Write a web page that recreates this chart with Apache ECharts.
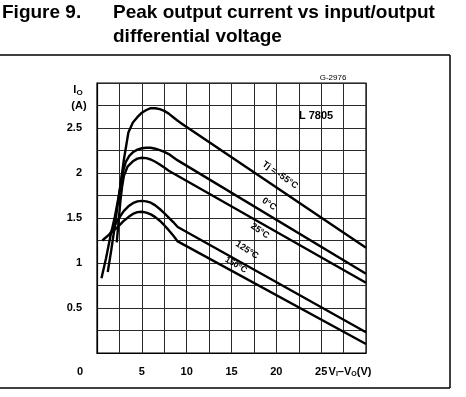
<!DOCTYPE html>
<html>
<head>
<meta charset="utf-8">
<script src="https://cdn.jsdelivr.net/npm/echarts@6/dist/echarts.min.js"></script>
<style>
html, body { margin: 0; padding: 0; background: #fff; }
#main { width: 466px; height: 397px; }
</style>
</head>
<body>
<div id="main"></div>
<script>
// peak output current (A) vs Vi-Vo (V), one array per junction temperature
var tjM55 = [[0.5,0.83],[1,1.05],[1.5,1.3],[2,1.52],[2.5,1.78],[3,2.15],[3.5,2.45],[4,2.56],[4.5,2.62],[5,2.67],[5.5,2.7],[6,2.72],[6.5,2.72],[7,2.71],[7.5,2.69],[8,2.66],[8.5,2.62],[9,2.58],[9.5,2.545],[10,2.51],[30,1.17]];
var tj0 = [[1.2,0.9],[1.6,1.15],[2,1.42],[2.4,1.72],[2.8,1.98],[3.2,2.12],[3.6,2.19],[4,2.23],[4.5,2.26],[5,2.275],[5.5,2.28],[6,2.28],[6.5,2.27],[7,2.255],[7.5,2.235],[8,2.21],[8.5,2.175],[9,2.14],[30,0.88]];
var tj25 = [[2.2,1.23],[2.4,1.45],[2.6,1.68],[2.8,1.85],[3,1.97],[3.4,2.07],[4,2.13],[4.5,2.16],[5,2.17],[5.5,2.165],[6,2.15],[6.5,2.125],[7,2.095],[7.5,2.06],[8,2.025],[30,0.78]];
var tj125 = [[1.3,1.3],[2,1.42],[2.6,1.52],[3,1.58],[3.5,1.63],[4,1.665],[4.5,1.685],[5,1.69],[5.5,1.685],[6,1.67],[6.5,1.64],[7,1.6],[7.5,1.555],[8,1.505],[8.5,1.455],[9,1.4],[30,0.23]];
var tj150 = [[0.6,1.25],[1.5,1.33],[2.2,1.39],[2.6,1.43],[3,1.47],[3.5,1.51],[4,1.545],[4.5,1.565],[5,1.57],[5.5,1.56],[6,1.54],[6.5,1.51],[7,1.47],[7.5,1.42],[8,1.365],[8.5,1.305],[9,1.24],[30,0.1]];
var xTicks = [5, 10, 15, 20, 25];
var yTicks = [0.5, 1, 1.5, 2, 2.5];

var chart = echarts.init(document.getElementById('main'));
var font = 'Liberation Sans, Arial, sans-serif';
var gridColor = '#2a2a2a';

function curve(name, data) {
    return {
        name: name,
        type: 'line',
        data: data,
        smooth: false,
        symbol: 'none',
        lineStyle: { color: '#000', width: 2.4, join: 'round' },
        z: 5
    }
}

function txt(x, y, text, size, rot) {
    return {
        type: 'text', x: x, y: y, rotation: (rot || 0) * Math.PI / 180, z: 10,
        style: { text: text, font: 'bold ' + size + 'px ' + font, fill: '#000', align: 'center', verticalAlign: 'middle' }
    }
}

var option = {
    animation: false,
    backgroundColor: '#fff',
    grid: { left: 97, top: 83, right: 100, bottom: 44, show: true, borderColor: '#000', borderWidth: 1.2 },
    xAxis: {
        type: 'value', min: 0, max: 30, interval: 2.5,
        axisLine: { lineStyle: { color: '#000', width: 1.2 } },
        axisTick: { show: false },
        splitLine: { lineStyle: { color: gridColor, width: 1 } },
        axisLabel: {
            margin: 13, color: '#000', fontFamily: font, fontWeight: 'bold', fontSize: 11,
            formatter: function (v) { return xTicks.indexOf(v) >= 0 ? String(v) : ''; }
        }
    },
    yAxis: {
        type: 'value', min: 0, max: 3, interval: 0.25,
        axisLine: { lineStyle: { color: '#000', width: 1.2 } },
        axisTick: { show: false },
        splitLine: { lineStyle: { color: gridColor, width: 1 } },
        axisLabel: {
            margin: 15, color: '#000', fontFamily: font, fontWeight: 'bold', fontSize: 11,
            formatter: function (v) { return yTicks.indexOf(v) >= 0 ? String(v) : ''; }
        }
    },
    series: [
        curve('-55°C', tjM55),
        curve('0°C', tj0),
        curve('25°C', tj25),
        curve('125°C', tj125),
        curve('150°C', tj150)
    ],
    graphic: [
        // title
        { type: 'text', left: 2, top: 3, style: { text: 'Figure 9.', font: 'bold 19px ' + font, fill: '#000' } },
        { type: 'text', left: 113, top: 3, style: { text: 'Peak output current vs input/output', font: 'bold 19px ' + font, fill: '#000' } },
        { type: 'text', left: 113, top: 27, style: { text: 'differential voltage', font: 'bold 19px ' + font, fill: '#000' } },
        // frame
        { type: 'line', shape: { x1: 0, y1: 55, x2: 450, y2: 55 }, style: { stroke: '#000', lineWidth: 1.5 } },
        { type: 'line', shape: { x1: 450, y1: 55, x2: 450, y2: 388 }, style: { stroke: '#000', lineWidth: 1.5 } },
        { type: 'line', shape: { x1: 0, y1: 388, x2: 450, y2: 388 }, style: { stroke: '#000', lineWidth: 1.5 } },
        // axis names and notes
        {
            type: 'text', x: 78, y: 90,
            style: { text: '{b|I}{s|O}', align: 'center', verticalAlign: 'middle',
                rich: { b: { font: 'bold 11px ' + font, fill: '#000' }, s: { font: 'bold 8px ' + font, fill: '#000', padding: [5, 0, 0, 0] } } }
        },
        txt(79, 106, '(A)', 11),
        txt(80, 372, '0', 11),
        {
            type: 'text', x: 350, y: 372,
            style: { text: '{b|V}{s|I}{b|–V}{s|O}{b|(V)}', align: 'center', verticalAlign: 'middle',
                rich: { b: { font: 'bold 11px ' + font, fill: '#000' }, s: { font: 'bold 7px ' + font, fill: '#000', padding: [5, 0, 0, 0] } } }
        },
        { type: 'text', x: 333, y: 78, z: 10, style: { text: 'G-2976', font: '8px ' + font, fill: '#000', align: 'center', verticalAlign: 'middle', backgroundColor: '#fff' } },
        txt(316, 116, 'L 7805', 11),
        txt(280, 175, 'Tj = -55°C', 9, -35),
        txt(269, 204, '0°C', 9, -35),
        txt(260, 231, '25°C', 9, -35),
        txt(247, 250, '125°C', 9, -33),
        txt(236, 265, '150°C', 8.5, -30)
    ]
};
chart.setOption(option);
</script>
</body>
</html>
